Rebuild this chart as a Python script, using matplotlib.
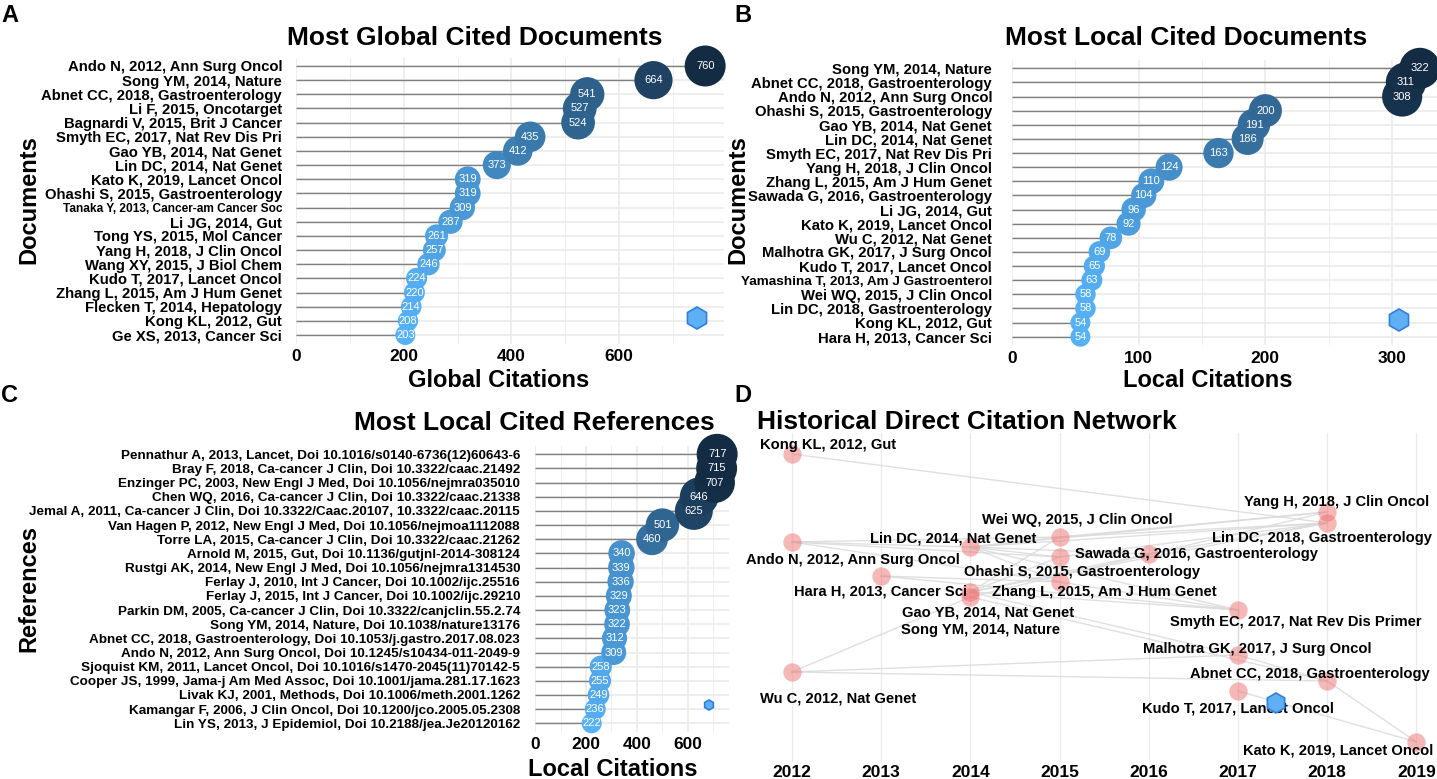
import matplotlib
matplotlib.use('Agg')
import matplotlib.pyplot as plt
import matplotlib.transforms as mtransforms
import numpy as np
from matplotlib.colors import LinearSegmentedColormap, Normalize
from matplotlib.patches import RegularPolygon

plt.rcParams['font.family'] = ['Liberation Sans', 'DejaVu Sans']

# ---- data ----
global_docs = ["Ando N, 2012, Ann Surg Oncol", "Song YM, 2014, Nature",
               "Abnet CC, 2018, Gastroenterology", "Li F, 2015, Oncotarget",
               "Bagnardi V, 2015, Brit J Cancer", "Smyth EC, 2017, Nat Rev Dis Pri",
               "Gao YB, 2014, Nat Genet", "Lin DC, 2014, Nat Genet",
               "Kato K, 2019, Lancet Oncol", "Ohashi S, 2015, Gastroenterology",
               "Tanaka Y, 2013, Cancer-am Cancer Soc", "Li JG, 2014, Gut",
               "Tong YS, 2015, Mol Cancer", "Yang H, 2018, J Clin Oncol",
               "Wang XY, 2015, J Biol Chem", "Kudo T, 2017, Lancet Oncol",
               "Zhang L, 2015, Am J Hum Genet", "Flecken T, 2014, Hepatology",
               "Kong KL, 2012, Gut", "Ge XS, 2013, Cancer Sci"]
global_cites = [760, 664, 541, 527, 524, 435, 412, 373, 319, 319,
                309, 287, 261, 257, 246, 224, 220, 214, 208, 203]

local_docs = ["Song YM, 2014, Nature", "Abnet CC, 2018, Gastroenterology",
              "Ando N, 2012, Ann Surg Oncol", "Ohashi S, 2015, Gastroenterology",
              "Gao YB, 2014, Nat Genet", "Lin DC, 2014, Nat Genet",
              "Smyth EC, 2017, Nat Rev Dis Pri", "Yang H, 2018, J Clin Oncol",
              "Zhang L, 2015, Am J Hum Genet", "Sawada G, 2016, Gastroenterology",
              "Li JG, 2014, Gut", "Kato K, 2019, Lancet Oncol",
              "Wu C, 2012, Nat Genet", "Malhotra GK, 2017, J Surg Oncol",
              "Kudo T, 2017, Lancet Oncol", "Yamashina T, 2013, Am J Gastroenterol",
              "Wei WQ, 2015, J Clin Oncol", "Lin DC, 2018, Gastroenterology",
              "Kong KL, 2012, Gut", "Hara H, 2013, Cancer Sci"]
local_cites = [322, 311, 308, 200, 191, 186, 163, 124, 110, 104,
               96, 92, 78, 69, 65, 63, 58, 58, 54, 54]

local_refs = ["Pennathur A, 2013, Lancet, Doi 10.1016/s0140-6736(12)60643-6",
              "Bray F, 2018, Ca-cancer J Clin, Doi 10.3322/caac.21492",
              "Enzinger PC, 2003, New Engl J Med, Doi 10.1056/nejmra035010",
              "Chen WQ, 2016, Ca-cancer J Clin, Doi 10.3322/caac.21338",
              "Jemal A, 2011, Ca-cancer J Clin, Doi 10.3322/Caac.20107, 10.3322/caac.20115",
              "Van Hagen P, 2012, New Engl J Med, Doi 10.1056/nejmoa1112088",
              "Torre LA, 2015, Ca-cancer J Clin, Doi 10.3322/caac.21262",
              "Arnold M, 2015, Gut, Doi 10.1136/gutjnl-2014-308124",
              "Rustgi AK, 2014, New Engl J Med, Doi 10.1056/nejmra1314530",
              "Ferlay J, 2010, Int J Cancer, Doi 10.1002/ijc.25516",
              "Ferlay J, 2015, Int J Cancer, Doi 10.1002/ijc.29210",
              "Parkin DM, 2005, Ca-cancer J Clin, Doi 10.3322/canjclin.55.2.74",
              "Song YM, 2014, Nature, Doi 10.1038/nature13176",
              "Abnet CC, 2018, Gastroenterology, Doi 10.1053/j.gastro.2017.08.023",
              "Ando N, 2012, Ann Surg Oncol, Doi 10.1245/s10434-011-2049-9",
              "Sjoquist KM, 2011, Lancet Oncol, Doi 10.1016/s1470-2045(11)70142-5",
              "Cooper JS, 1999, Jama-j Am Med Assoc, Doi 10.1001/jama.281.17.1623",
              "Livak KJ, 2001, Methods, Doi 10.1006/meth.2001.1262",
              "Kamangar F, 2006, J Clin Oncol, Doi 10.1200/jco.2005.05.2308",
              "Lin YS, 2013, J Epidemiol, Doi 10.2188/jea.Je20120162"]
ref_cites = [717, 715, 707, 646, 625, 501, 460, 340, 339, 336,
             329, 323, 322, 312, 309, 258, 255, 249, 236, 222]

# historical network: nodes (year, layout height) and label placement
net_names = ["Kong KL, 2012, Gut", "Yang H, 2018, J Clin Oncol",
             "Lin DC, 2018, Gastroenterology", "Wei WQ, 2015, J Clin Oncol",
             "Ando N, 2012, Ann Surg Oncol", "Lin DC, 2014, Nat Genet",
             "Ohashi S, 2015, Gastroenterology", "Sawada G, 2016, Gastroenterology",
             "Hara H, 2013, Cancer Sci", "Zhang L, 2015, Am J Hum Genet",
             "Gao YB, 2014, Nat Genet", "Song YM, 2014, Nature",
             "Smyth EC, 2017, Nat Rev Dis Primer", "Malhotra GK, 2017, J Surg Oncol",
             "Wu C, 2012, Nat Genet", "Abnet CC, 2018, Gastroenterology",
             "Kudo T, 2017, Lancet Oncol", "Kato K, 2019, Lancet Oncol"]
net_year = [2012, 2018, 2018, 2015, 2012, 2014, 2015, 2016, 2013, 2015,
            2014, 2014, 2017, 2017, 2012, 2018, 2017, 2019]
net_pos = [454, 512, 523, 537, 542, 547, 557, 554, 576, 582,
           592, 597, 610, 655, 672, 681, 691, 742]
lab_year = [2012.41, 2018.10, 2017.94, 2015.20, 2012.68, 2013.81, 2015.25, 2016.53,
            2012.99, 2015.50, 2014.20, 2014.12, 2017.65, 2017.22, 2012.52, 2017.81,
            2017.00, 2018.12]
lab_pos = [445, 502, 538, 520, 560, 538, 572, 554, 591, 592,
           612, 630, 622, 649, 698, 674, 708, 750]
net_edges = [(0, 2), (4, 3), (4, 5), (4, 6), (4, 9), (8, 9), (8, 12),
             (5, 3), (5, 6), (5, 7), (5, 9), (5, 12), (5, 2), (5, 1),
             (10, 3), (10, 6), (10, 7), (10, 2), (10, 12), (10, 13),
             (11, 1), (11, 15), (14, 11), (14, 13), (14, 15), (12, 13),
             (13, 15), (15, 17), (16, 17), (3, 1), (3, 2), (7, 2), (6, 2),
             (9, 12)]

# ---- figure ----
W, H = 1437, 779
fig = plt.figure(figsize=(W / 100, H / 100), dpi=100)
blues = LinearSegmentedColormap.from_list('gg', ['#56B1F7', '#132B43'])


def px_axes(left, top, right, bottom):
    return fig.add_axes([left / W, 1 - bottom / H, (right - left) / W, (bottom - top) / H])


def ftext(x, y, s, **kw):
    fig.text(x / W, 1 - y / H, s, **kw)


def lollipop(ax, labels, values, xmax, major, minor, lab_size, pad, small):
    n = len(values)
    y = np.arange(n)
    vals = np.array(values)
    ax.set_xlim(0, xmax)
    ax.set_ylim(n - 1 + 0.6, -0.6)
    ax.set_xticks(major)
    ax.set_xticks(minor, minor=True)
    ax.set_yticks(y)
    ax.set_yticklabels(labels, fontweight='bold', fontsize=lab_size)
    for i, sz in small.items():
        ax.get_yticklabels()[i].set_fontsize(sz)
    ax.tick_params(axis='both', length=0, which='both')
    ax.tick_params(axis='y', pad=pad)
    ax.tick_params(axis='x', pad=4)
    for t in ax.get_xticklabels():
        t.set_fontweight('bold')
        t.set_fontsize(12.5)
    for s in ax.spines.values():
        s.set_visible(False)
    ax.grid(True, which='major', color='#ebebeb', lw=1.2, zorder=0)
    ax.grid(True, which='minor', axis='x', color='#ebebeb', lw=0.6, zorder=0)
    ax.set_axisbelow(True)
    ax.hlines(y, 0, vals, color='#808080', lw=1.0, zorder=2)
    t = (vals - vals.min()) / (vals.max() - vals.min())
    sizes = 207 + t * (870 - 207)
    norm = Normalize(vals.min(), vals.max())
    ax.scatter(vals[::-1], y[::-1], s=sizes[::-1], c=vals[::-1], cmap=blues, norm=norm,
               linewidths=0, zorder=3, clip_on=False)
    for v, yy in zip(vals, y):
        ax.text(v, yy, str(v), color='white', fontsize=8, ha='center', va='center',
                zorder=4, clip_on=False)


# panel A
axA = px_axes(296, 57.5, 724, 343.5)
lollipop(axA, global_docs, global_cites, 795, [0, 200, 400, 600], [100, 300, 500, 700],
         10.7, 10, {10: 8.6})
# panel B
axB = px_axes(1012, 59.8, 1437, 345.2)
lollipop(axB, local_docs, local_cites, 335.5, [0, 100, 200, 300], [50, 150, 250],
         10.7, 14.4, {15: 9.7})
# panel C
axC = px_axes(535.4, 445.8, 729, 731.8)
lollipop(axC, local_refs, ref_cites, 763.7, [0, 200, 400, 600], [100, 300, 500, 700],
         9.7, 11, {})

# panel D
axD = px_axes(757, 433, 1437, 762)
axD.set_xlim(2011.61, 2019.23)
axD.set_ylim(762, 433)
axD.set_xticks(range(2012, 2020))
axD.set_yticks([])
axD.tick_params(axis='x', length=0, pad=2)
for t in axD.get_xticklabels():
    t.set_fontweight('bold')
    t.set_fontsize(12.5)
for s in axD.spines.values():
    s.set_visible(False)
axD.grid(True, axis='x', color='#ebebeb', lw=1.0, zorder=0)
axD.set_axisbelow(True)
for a, b in net_edges:
    axD.plot([net_year[a], net_year[b]], [net_pos[a], net_pos[b]],
             color='#dadada', lw=1.0, alpha=0.85, zorder=1)
axD.scatter(net_year, net_pos, s=175, color='#ee6a6a', alpha=0.48, linewidths=0, zorder=2)
for name, lx, ly in zip(net_names, lab_year, lab_pos):
    axD.text(lx, ly, name, fontsize=10.6, fontweight='bold', ha='center', va='center',
             zorder=3, clip_on=False)

# titles, axis titles, panel letters
ftext(474.5, 38, 'Most Global Cited Documents', fontsize=19, fontweight='bold', ha='center', va='center')
ftext(1186, 38, 'Most Local Cited Documents', fontsize=19, fontweight='bold', ha='center', va='center')
ftext(534, 423, 'Most Local Cited References', fontsize=19, fontweight='bold', ha='center', va='center')
ftext(757, 421.7, 'Historical Direct Citation Network', fontsize=19, fontweight='bold', ha='left', va='center')

ftext(498.5, 381, 'Global Citations', fontsize=17, fontweight='bold', ha='center', va='center')
ftext(1207.6, 381, 'Local Citations', fontsize=17, fontweight='bold', ha='center', va='center')
ftext(613, 770, 'Local Citations', fontsize=17, fontweight='bold', ha='center', va='center')

ftext(28.5, 200, 'Documents', fontsize=17, fontweight='bold', ha='center', va='center', rotation=90)
ftext(738, 200, 'Documents', fontsize=17, fontweight='bold', ha='center', va='center', rotation=90)
ftext(29, 589, 'References', fontsize=17, fontweight='bold', ha='center', va='center', rotation=90)

for letter, x, y in [('A', 10, 15), ('B', 743, 15), ('C', 10, 395), ('D', 743, 395)]:
    ftext(x, y, letter, fontsize=17, fontweight='bold', ha='center', va='center')

# small hexagon badges
for x, y, r in [(697, 318, 11), (1399, 320, 11), (709, 705, 5), (1276, 703, 10)]:
    fig.add_artist(RegularPolygon((x, H - y), 6, radius=r, facecolor='#5fb0f2',
                                  edgecolor='#2f7fe0', lw=1.2,
                                  transform=mtransforms.IdentityTransform()))

fig.savefig('out.png', dpi=100)
